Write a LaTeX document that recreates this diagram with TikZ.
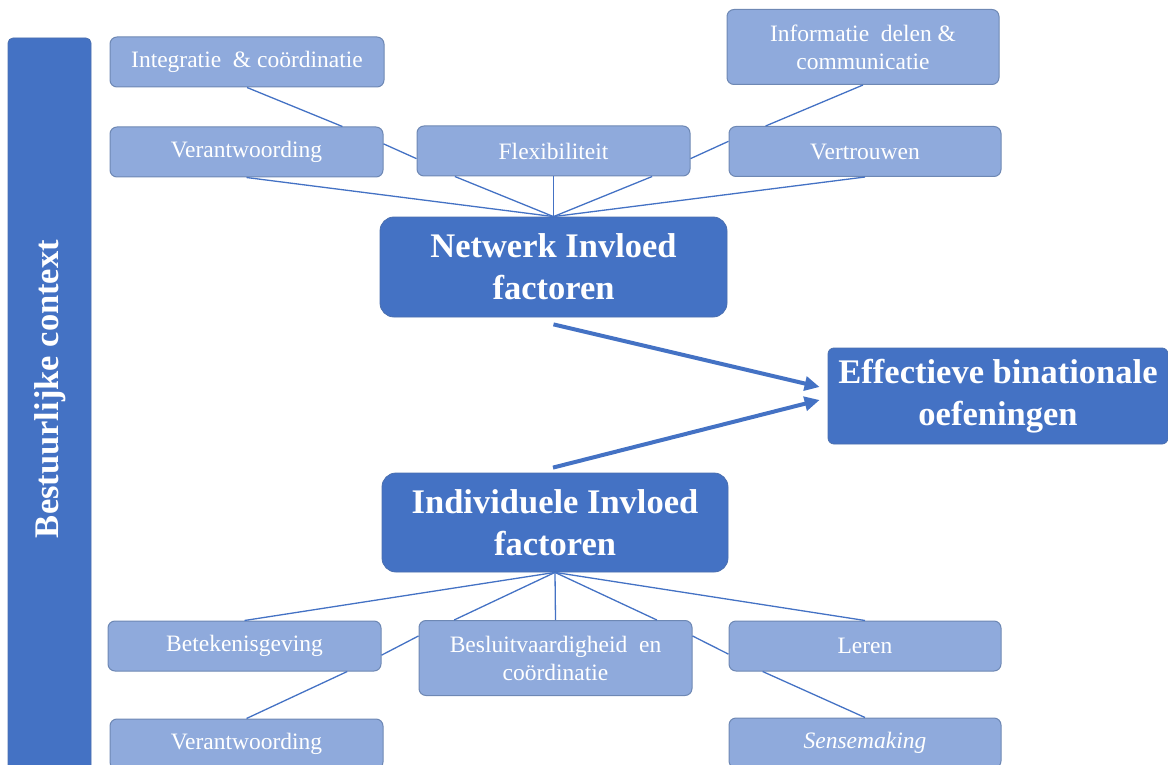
\documentclass[tikz,border=0pt]{standalone}
\usepackage{fontspec}
\setmainfont{Liberation Serif}
\usetikzlibrary{calc,arrows.meta}
\definecolor{lightfill}{HTML}{8FAADC}
\definecolor{lightborder}{HTML}{6E88B4}
\definecolor{darkfill}{HTML}{4472C4}
\definecolor{darkborder}{HTML}{4A6FAF}
\definecolor{linecol}{HTML}{4472C4}
\tikzset{
  lbox/.style={draw=lightborder, line width=1pt, fill=lightfill, rounded corners=7pt,
    text=white, align=center, inner sep=0pt,
    font=\fontsize{23.5}{28}\selectfont},
  dbox/.style={draw=darkborder, line width=0.8pt, fill=darkfill, rounded corners=14pt,
    text=white, align=center, inner sep=0pt,
    font=\fontsize{34.5}{42}\selectfont\bfseries},
  conn/.style={draw=linecol, line width=1.3pt},
  bigarrow/.style={draw=linecol, line width=4pt, -{Triangle[length=15pt,width=14pt]}},
}
\begin{document}
\begin{tikzpicture}[x=1pt,y=-1pt]
\useasboundingbox (0,0) rectangle (1168,765);
% left bar
\node[draw=darkborder, line width=0.8pt, fill=darkfill, rounded corners=5pt,
  minimum width=83pt, minimum height=732pt, inner sep=0pt] (bar) at (49.5,404) {};
\node[rotate=90, text=white, font=\fontsize{34.5}{42}\selectfont\bfseries] (bartext) at (50,389) {Bestuurlijke context};
% top boxes
\node[lbox, minimum width=274pt, minimum height=50pt] (integ) at (247,62) {Integratie \ \& coördinatie};
\node[lbox, minimum width=273pt, minimum height=50pt] (verT) at (246.5,152) {Verantwoording};
\node[lbox, minimum width=273pt, minimum height=50pt] (flex) at (553.5,151) {Flexibiliteit};
\node[lbox, minimum width=272pt, minimum height=75pt] (info) at (863,47) {Informatie \ delen \&\\communicatie};
\node[lbox, minimum width=272pt, minimum height=50pt] (vert) at (865,151.5) {Vertrouwen};
% main boxes
\node[dbox, minimum width=347pt, minimum height=100pt] (net) at (553.5,267) {Netwerk Invloed\\factoren};
\node[dbox, rounded corners=6pt, minimum width=340pt, minimum height=96pt] (eff) at (998,396) {Effectieve binationale\\oefeningen};
\node[dbox, minimum width=346pt, minimum height=99pt] (ind) at (555,522.5) {Individuele Invloed\\factoren};
% bottom boxes
\node[lbox, minimum width=273pt, minimum height=50pt] (betek) at (244.5,646) {Betekenisgeving};
\node[lbox, minimum width=273pt, minimum height=75pt] (besl) at (555.5,658) {Besluitvaardigheid \ en\\coördinatie};
\node[lbox, minimum width=272pt, minimum height=50pt] (leren) at (865,646) {Leren};
\node[lbox, minimum width=273pt, minimum height=50pt] (verB) at (246.5,744) {Verantwoording};
\node[lbox, minimum width=272pt, minimum height=50pt] (sense) at (865,743) {\itshape Sensemaking};
% top connectors
\draw[conn] (integ.south) -- ($(verT.north west)!0.85!(verT.north east)$);
\draw[conn] ($(verT.north east)!0.34!(verT.south east)$) -- ($(flex.north west)!0.65!(flex.south west)$);
\draw[conn] ($(flex.north east)!0.65!(flex.south east)$) -- ($(vert.north west)!0.3!(vert.south west)$);
\draw[conn] (info.south) -- ($(vert.north west)!0.136!(vert.north east)$);
\draw[conn] (net.north) -- (verT.south);
\draw[conn] (net.north) -- ($(flex.south west)!0.14!(flex.south east)$);
\draw[conn] (net.north) -- (flex.south);
\draw[conn] (net.north) -- ($(flex.south west)!0.86!(flex.south east)$);
\draw[conn] (net.north) -- (vert.south);
% arrows
\draw[bigarrow] ($(net.south)+(0,7)$) -- ($(eff.west)+(-8,-9)$);
\draw[bigarrow] ($(ind.north)+(-2,-5)$) -- ($(eff.west)+(-8,4)$);
% bottom connectors
\draw[conn] (ind.south) -- (betek.north);
\draw[conn] (ind.south) -- ($(besl.north west)!0.13!(besl.north east)$);
\draw[conn] (ind.south) -- (besl.north);
\draw[conn] (ind.south) -- ($(besl.north west)!0.87!(besl.north east)$);
\draw[conn] (ind.south) -- (leren.north);
\draw[conn] ($(betek.north east)!0.68!(betek.south east)$) -- ($(besl.north west)!0.21!(besl.south west)$);
\draw[conn] ($(besl.north east)!0.21!(besl.south east)$) -- ($(leren.north west)!0.66!(leren.south west)$);
\draw[conn] ($(betek.south west)!0.875!(betek.south east)$) -- (verB.north);
\draw[conn] ($(leren.south west)!0.125!(leren.south east)$) -- (sense.north);
\end{tikzpicture}
\end{document}
